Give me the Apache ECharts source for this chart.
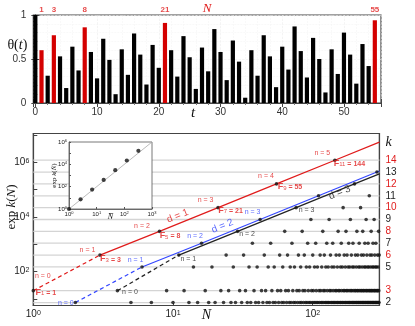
<!DOCTYPE html>
<html>
<head>
<meta charset="utf-8">
<script src="https://cdn.jsdelivr.net/npm/echarts@6/dist/echarts.min.js"></script>
<style>
  html, body { margin: 0; padding: 0; background: #fff; }
  #chart { width: 415px; height: 326px; }
</style>
</head>
<body>
<div id="chart"></div>
<script>
// 上图：theta(t)，t = 0..55
var theta = [
  1.00, 0.60, 0.31, 0.77, 0.53, 0.17, 0.64, 0.37, 0.86, 0.58,
  0.28, 0.73, 0.49, 0.10, 0.61, 0.32, 0.79, 0.55, 0.21, 0.66,
  0.40, 0.91, 0.60, 0.30, 0.76, 0.52, 0.16, 0.63, 0.36, 0.84,
  0.58, 0.26, 0.71, 0.47, 0.06, 0.60, 0.31, 0.77, 0.53, 0.18,
  0.64, 0.38, 0.87, 0.59, 0.29, 0.74, 0.50, 0.12, 0.61, 0.33,
  0.80, 0.55, 0.22, 0.67, 0.42, 0.94
];
var redT = [1, 3, 8, 21, 55];

// 下图：每一层 k 上的点 (N 值)
var kLevels = [2, 3, 5, 6, 7, 8, 9, 10, 11, 12, 13, 14];
var row2 = [2, 5, 7, 10, 13, 15, 18, 20, 23, 26, 28, 31, 34, 36, 39, 41, 44, 47, 49, 52,
  54, 57, 60, 62, 65, 68, 70, 73, 75, 78, 81, 83, 86, 89, 91, 94, 96, 99, 102, 104,
  107, 109, 112, 115, 117, 120, 123, 125, 128, 130, 133, 136, 138, 141, 143, 146, 149, 151, 154, 157,
  159, 162, 164, 167, 170, 172, 175, 178, 180, 183, 185, 188, 191, 193, 196, 198, 201, 204, 206, 209,
  212, 214, 217, 219, 222, 225, 227, 230, 232, 235, 238, 240, 243, 246, 248, 251, 253, 256, 259, 261,
  264, 267, 269, 272, 274, 277, 280, 282, 285, 287, 290, 293, 295, 298];
var row3 = [1, 4, 9, 12, 17, 22, 25, 30, 33, 38, 43, 46, 51, 56, 59, 64, 67, 72, 77, 80,
  85, 88, 93, 98, 101, 106, 111, 114, 119, 122, 127, 132, 135, 140, 145, 148, 153, 156, 161, 166,
  169, 174, 177, 182, 187, 190, 195, 200, 203, 208, 211, 216, 221, 224, 229, 232, 237, 242, 245, 250,
  255, 258, 263, 266, 271, 276, 279, 284, 289, 292, 297];
var row5 = [6, 14, 19, 27, 35, 40, 48, 53, 61, 69, 74, 82, 90, 95, 103, 108, 116, 124, 129, 137,
  142, 150, 158, 163, 171, 179, 184, 192, 197, 205, 213, 218, 226, 234, 239, 247, 252, 260, 268, 273,
  281, 286, 294];
var row6 = [3, 11, 24, 32, 45, 58, 66, 79, 87, 100, 113, 121, 134, 147, 155, 168, 176, 189, 202, 210,
  223, 231, 244, 257, 265, 278, 291, 299];
var row7 = [16, 37, 50, 71, 92, 105, 126, 139, 160, 181, 194, 215, 236, 249, 270, 283];
var row8 = [8, 29, 63, 84, 118, 152, 173, 207, 228, 262, 296];
var row9 = [42, 97, 131, 186, 241, 275];
var row10 = [21, 76, 165, 220];
var row11 = [110, 254];
var row12 = [55, 199];
var row13 = [288];
var row14 = [144];

// 三条线上的点
var redN = [1, 3, 8, 21, 55, 144];
var redK = [3, 6, 8, 10, 12, 14];
var blueN = [2, 6, 16, 42, 110, 288];
var blueK = [2, 5, 7, 9, 11, 13];
var blackN = [4, 11, 29, 76, 199];
var blackK = [3, 6, 8, 10, 12];
var edgeN = 300;
var redEdgeK = 15.52, blueEdgeK = 13.08, blackEdgeK = 12.85;

// 小图
var nBar = [1, 2.618, 6.854, 17.94, 46.98, 123.0, 322.0];
var expKBar = [1, 7.389, 54.60, 403.4, 2981, 22026, 162755];
var diagN = [1, 1000];
var diagY = [1, 1e6];

(function() {
  var chart = echarts.init(document.getElementById('chart'));
  var sans = '"Liberation Sans", Arial, Helvetica, sans-serif';
  var serif = '"Liberation Serif", "Times New Roman", serif';
  var RED = '#e01b1b', BLUE = '#3346ff', INK = '#111';
  var kMin = 1.75, kMax = 16.25;

  var rows = {2: row2, 3: row3, 5: row5, 6: row6, 7: row7, 8: row8, 9: row9,
    10: row10, 11: row11, 12: row12, 13: row13, 14: row14};
  var dots = [];
  kLevels.forEach(function(k) {
    rows[k].forEach(function(n) { dots.push([n, k]); });
  });

  function pts(ns, ks) {
    return ns.map(function(n, i) { return [n, ks[i]]; });
  }

  function powLabel(evenOnly) {
    return function(v) {
      var e = Math.log(v) / Math.LN10, r = Math.round(e);
      if (Math.abs(e - r) > 1e-6) return '';
      if (evenOnly && r % 2 !== 0) return '';
      return '{b|10}{s|' + r + '}';
    };
  }
  function powRich(size) {
    var s = Math.round(size * 0.7);
    return {
      b: { fontSize: size, lineHeight: size, fontFamily: sans, color: '#222', verticalAlign: 'bottom' },
      s: { fontSize: s, lineHeight: s, fontFamily: sans, color: '#222', verticalAlign: 'top',
           padding: [0, 0, Math.round(size * 0.5), 0] }
    };
  }

  var bars = theta.map(function(v, t) {
    return { value: [t, v], itemStyle: { color: redT.indexOf(t) >= 0 ? '#d40000' : '#000' } };
  });

  // 注释文字
  var notes = [];
  function note(n, k, text, dx, dy, color, extra) {
    var lab = { show: true, formatter: text, position: [dx, dy], align: 'center',
      verticalAlign: 'middle', color: color };
    for (var key in extra) lab[key] = extra[key];
    notes.push({ value: [n, k], label: lab });
  }
  var redNOff = [[10, -14], [-12, -5], [-17, -5], [-12, -7], [-10, -7], [-12, -7]];
  var redFOff = [[13, 2], [11, 4], [11, 4.5], [13, 3], [14, 3], [15, 3.5]];
  redN.forEach(function(n, i) {
    note(n, redK[i], 'n = ' + i, redNOff[i][0], redNOff[i][1], RED);
    note(n, redK[i], '{F|F}{sub|' + (2 * i + 1) + '}{eq| = ' + n + '}', redFOff[i][0], redFOff[i][1], RED);
  });
  var blueOff = [[-9, 1], [-6, -6], [-6, -7], [-7, -7]];
  blueOff.forEach(function(o, i) { note(blueN[i], blueK[i], 'n = ' + i, o[0], o[1], BLUE); });
  var blackOff = [[13, 1.5], [10, 4], [10, 3.5], [11, 3]];
  blackOff.forEach(function(o, i) { note(blackN[i], blackK[i], 'n = ' + i, o[0], o[1], '#222'); });
  var dStyle = { fontSize: 10, rotate: 22, fontFamily: sans };
  note(10.9, 9.25, 'd = 1', 0, 0, RED, dStyle);
  note(22.8, 8.40, 'd = 2', 0, 0, BLUE, dStyle);
  note(157, 11.22, 'd = 3', 0, 0, '#222', dStyle);

  var levelSeries = kLevels.map(function(k) {
    return {
      type: 'line', xAxisIndex: 2, yAxisIndex: 3, data: [[1, k], [edgeN, k]],
      showSymbol: false, silent: true, z: 1,
      lineStyle: { color: '#d4d4d4', width: 1.3 }
    };
  });

  function lineSeries(data, color, dashed) {
    return {
      type: 'line', xAxisIndex: 2, yAxisIndex: 3, data: data, showSymbol: false,
      silent: true, z: 2,
      lineStyle: { color: color, width: 1.2, type: dashed ? [4, 3] : 'solid' }
    };
  }

  var frame = { lineStyle: { color: '#444', width: 1.2 } };
  var noBounds = { containLabel: false, outerBoundsMode: 'none' };
  function gridOf(o) {
    for (var key in noBounds) o[key] = noBounds[key];
    return o;
  }

  var option = {
    animation: false,
    backgroundColor: '#fff',
    graphic: [
      { type: 'text', left: 191, top: 106, silent: true,
        style: { text: 't', font: 'italic 15px ' + serif, fill: '#111' } }
    ],
    grid: [
      gridOf({ left: 33.3, top: 15, width: 347.7, height: 88, show: true, borderColor: '#444', borderWidth: 1.2 }),
      gridOf({ left: 33.3, top: 133.5, width: 346.1, height: 172, show: true, borderColor: '#444', borderWidth: 1.2 }),
      gridOf({ left: 69, top: 142, width: 83, height: 67, show: true, backgroundColor: '#fff',
        borderColor: '#555', borderWidth: 0.8, z: 5 })
    ],
    xAxis: [
      {
        type: 'value', gridIndex: 0, min: -0.33, max: 56, splitNumber: 5,
        axisLine: frame,
        axisTick: { inside: true, length: 4, lineStyle: { color: '#444' } },
        minorTick: { show: true, splitNumber: 5, length: 2, lineStyle: { color: '#777' } },
        splitLine: { show: true, lineStyle: { color: '#ececec', width: 0.6, type: 'dashed' } },
        minorSplitLine: { show: true, lineStyle: { color: '#f2f2f2', width: 0.5, type: 'dashed' } },
        axisLabel: { showMinLabel: false, showMaxLabel: false, fontSize: 10, color: '#333',
          fontFamily: sans, margin: 4 }
      },
      {
        type: 'value', gridIndex: 0, min: -0.33, max: 56, splitNumber: 5, position: 'top',
        axisLine: frame,
        axisTick: { inside: true, length: 4, lineStyle: { color: '#444' } },
        minorTick: { show: true, splitNumber: 5, length: 2, lineStyle: { color: '#777' } },
        splitLine: { show: false },
        axisLabel: { show: false },
        name: 'N', nameLocation: 'middle', nameGap: 0, nameMoveOverlap: false,
        nameTextStyle: { color: RED, fontFamily: serif, fontStyle: 'italic', fontSize: 13 }
      },
      {
        type: 'log', gridIndex: 1, min: 1, max: edgeN, position: 'bottom',
        axisLine: frame,
        axisTick: { inside: true, length: 4, lineStyle: { color: '#444' } },
        splitLine: { show: false },
        axisLabel: { formatter: powLabel(false), rich: powRich(10), margin: 4,
          showMaxLabel: false },
        name: 'N', nameLocation: 'middle', nameGap: 3, nameMoveOverlap: false,
        nameTextStyle: { color: '#111', fontFamily: serif, fontStyle: 'italic', fontSize: 14 }
      },
      {
        type: 'log', gridIndex: 2, min: 1, max: 1000, z: 6,
        axisLine: { lineStyle: { color: '#555', width: 0.8 } },
        axisTick: { inside: true, length: 2, lineStyle: { color: '#555' } },
        splitLine: { show: false },
        axisLabel: { formatter: powLabel(false), rich: powRich(6), margin: 2 },
        name: 'N\u0304', nameLocation: 'middle', nameGap: 4, nameMoveOverlap: false,
        nameTextStyle: { color: '#111', fontFamily: serif, fontStyle: 'italic', fontSize: 8 }
      }
    ],
    yAxis: [
      {
        type: 'value', gridIndex: 0, min: 0, max: 1, interval: 0.5,
        axisLine: frame,
        axisTick: { inside: true, length: 4, lineStyle: { color: '#444' } },
        minorTick: { show: true, splitNumber: 5, length: 2, lineStyle: { color: '#777' } },
        splitLine: { show: true, lineStyle: { color: '#ececec', width: 0.6, type: 'dashed' } },
        minorSplitLine: { show: true, lineStyle: { color: '#f2f2f2', width: 0.5, type: 'dashed' } },
        axisLabel: { fontSize: 10, color: '#333', fontFamily: sans, margin: 7 },
        name: '{r|\u03b8(}{i|t}{r|)}', nameLocation: 'middle', nameRotate: 0, nameGap: 6,
        nameMoveOverlap: false,
        nameTextStyle: { padding: [0, 0, 28, 0], rich: {
          r: { fontFamily: serif, fontSize: 14, color: '#111' },
          i: { fontFamily: serif, fontStyle: 'italic', fontSize: 14, color: '#111' } } }
      },
      {
        type: 'value', gridIndex: 0, min: 0, max: 1, interval: 0.5, position: 'right',
        axisLine: frame,
        axisTick: { inside: true, length: 4, lineStyle: { color: '#444' } },
        minorTick: { show: true, splitNumber: 5, length: 2, lineStyle: { color: '#777' } },
        splitLine: { show: false },
        axisLabel: { show: false }
      },
      {
        type: 'log', gridIndex: 1, min: Math.exp(kMin), max: Math.exp(kMax),
        axisLine: frame,
        axisTick: { inside: true, length: 4, lineStyle: { color: '#444' } },
        splitLine: { show: false },
        axisLabel: { formatter: powLabel(true), rich: powRich(10), margin: 4,
          showMinLabel: false, showMaxLabel: false },
        name: '{r|exp }{i|k}{r|(}{i|N}{r|)}', nameLocation: 'middle', nameRotate: 90, nameGap: 15,
        nameMoveOverlap: false,
        nameTextStyle: { padding: [0, 0, 0, 25], rich: {
          r: { fontFamily: serif, fontSize: 13, color: '#111' },
          i: { fontFamily: serif, fontStyle: 'italic', fontSize: 13, color: '#111' } } }
      },
      {
        type: 'value', gridIndex: 1, min: kMin, max: kMax, interval: 0.25, position: 'right',
        axisLine: frame,
        axisTick: { show: false },
        splitLine: { show: false },
        axisLabel: {
          margin: 6,
          formatter: function(v) {
            if (Math.abs(v - 15.5) < 1e-6) return '{k|k}';
            var r = Math.round(v);
            if (Math.abs(v - r) > 1e-6 || kLevels.indexOf(r) < 0) return '';
            return (redK.indexOf(r) >= 0 ? '{r|' : '{b|') + r + '}';
          },
          rich: {
            r: { color: RED, fontSize: 10, fontFamily: sans },
            b: { color: '#222', fontSize: 10, fontFamily: sans },
            k: { color: '#111', fontSize: 14, fontFamily: serif, fontStyle: 'italic' }
          }
        }
      },
      {
        type: 'log', gridIndex: 2, min: 1, max: 1e6, z: 6,
        axisLine: { lineStyle: { color: '#555', width: 0.8 } },
        axisTick: { inside: true, length: 2, lineStyle: { color: '#555' } },
        splitLine: { show: false },
        axisLabel: { formatter: powLabel(true), rich: powRich(6), margin: 2 },
        name: '{r|exp }{i|k}{r|(}{i|N\u0304}{r|)}', nameLocation: 'middle', nameRotate: 90, nameGap: 11,
        nameMoveOverlap: false,
        nameTextStyle: { rich: {
          r: { fontFamily: serif, fontSize: 7, color: '#111' },
          i: { fontFamily: serif, fontStyle: 'italic', fontSize: 7, color: '#111' } } }
      }
    ],
    series: [
      {
        type: 'bar', xAxisIndex: 0, yAxisIndex: 0, barWidth: 4.2, data: bars, silent: true
      },
      {
        type: 'scatter', xAxisIndex: 0, yAxisIndex: 0, symbolSize: 1, silent: true,
        itemStyle: { color: 'rgba(0,0,0,0)' },
        data: redT.map(function(t) { return [t, 1]; }),
        label: { show: true, position: 'top', distance: 1, color: RED, fontSize: 8,
          fontWeight: 'bold', fontFamily: sans,
          formatter: function(p) { return p.value[0]; } }
      }
    ].concat(levelSeries).concat([
      lineSeries(pts(redN, redK).slice(0, 2), RED, true),
      lineSeries(pts(redN, redK).slice(1).concat([[edgeN, redEdgeK]]), RED, false),
      lineSeries(pts(blueN, blueK).slice(0, 2), BLUE, true),
      lineSeries(pts(blueN, blueK).slice(1).concat([[edgeN, blueEdgeK]]), BLUE, false),
      lineSeries(pts(blackN, blackK).slice(0, 2), '#222', true),
      lineSeries(pts(blackN, blackK).slice(1).concat([[edgeN, blackEdgeK]]), '#222', false),
      {
        type: 'scatter', xAxisIndex: 2, yAxisIndex: 3, data: dots, symbolSize: 3.6,
        itemStyle: { color: INK }, silent: true, z: 4
      },
      {
        type: 'scatter', xAxisIndex: 2, yAxisIndex: 3, data: notes, symbolSize: 1,
        itemStyle: { color: 'rgba(0,0,0,0)' }, silent: true, z: 4,
        label: {
          show: true, fontSize: 7, fontFamily: sans,
          rich: {
            F: { fontSize: 9, lineHeight: 9, fontWeight: 'bold', fontFamily: sans, verticalAlign: 'top' },
            sub: { fontSize: 6, lineHeight: 6, fontFamily: sans, verticalAlign: 'bottom', padding: [4, 0, 0, 0] },
            eq: { fontSize: 7, lineHeight: 7, fontWeight: 'bold', fontFamily: sans, verticalAlign: 'bottom', padding: [3, 0, 0, 0] }
          }
        }
      },
      {
        type: 'line', xAxisIndex: 3, yAxisIndex: 4, z: 7, silent: true,
        data: pts(diagN, diagY), showSymbol: false,
        lineStyle: { color: '#aaa', width: 0.8 }
      },
      {
        type: 'scatter', xAxisIndex: 3, yAxisIndex: 4, z: 8, silent: true,
        data: pts(nBar, expKBar), symbolSize: 4.2,
        itemStyle: { color: INK }
      }
    ])
  };

  option && chart.setOption(option);
})();
</script>
</body>
</html>
